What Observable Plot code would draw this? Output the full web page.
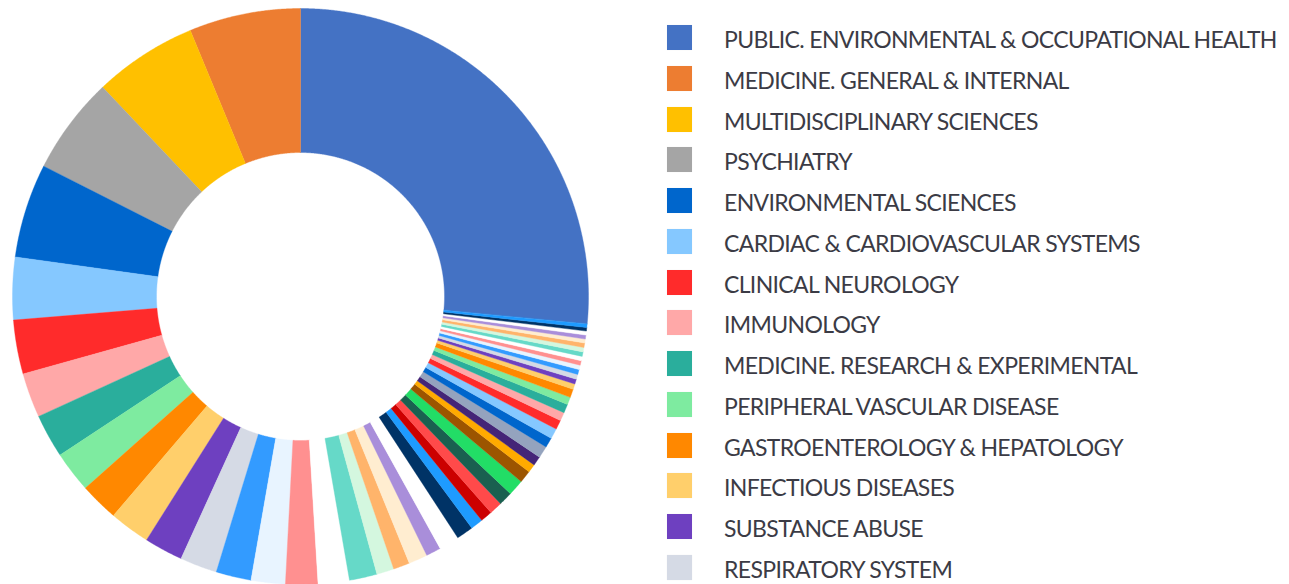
<!DOCTYPE html>
<html>
<head>
<meta charset="utf-8">
<script src="https://cdn.jsdelivr.net/npm/d3@7"></script>
<script src="https://cdn.jsdelivr.net/npm/@observablehq/plot@0.6"></script>
<style>
  html, body { margin: 0; padding: 0; background: #ffffff; }
  #wrap { position: relative; width: 1289px; height: 584px; overflow: hidden; }
  #chart { position: absolute; left: 0; top: 0; }
  #legend { position: absolute; left: 0; top: 0; width: 1289px; height: 584px; pointer-events: none; }
  .sw { position: absolute; width: 25px; height: 25px; box-shadow: 0 0 1px rgba(0,0,0,0.08); }
  .lb { position: absolute; font-family: Lato, "Open Sans", sans-serif; font-size: 23px; color: #3b3b45; white-space: nowrap; line-height: 1; letter-spacing: -0.65px; }
</style>
</head>
<body>
<div id="wrap">
  <div id="chart"></div>
  <div id="legend"></div>
</div>
<script>
// ---- Data ----
// Legend names (only these 14 are visible in the reference)
const categories = [
  "PUBLIC. ENVIRONMENTAL & OCCUPATIONAL HEALTH",
  "MEDICINE. GENERAL & INTERNAL",
  "MULTIDISCIPLINARY SCIENCES",
  "PSYCHIATRY",
  "ENVIRONMENTAL SCIENCES",
  "CARDIAC & CARDIOVASCULAR SYSTEMS",
  "CLINICAL NEUROLOGY",
  "IMMUNOLOGY",
  "MEDICINE. RESEARCH & EXPERIMENTAL",
  "PERIPHERAL VASCULAR DISEASE",
  "GASTROENTEROLOGY & HEPATOLOGY",
  "INFECTIOUS DISEASES",
  "SUBSTANCE ABUSE",
  "RESPIRATORY SYSTEM"
];

// Slice shares, in data order
const shares = [
  95.5, 22.5, 20.9, 19.7, 19.0, 12.6, 10.9, 9.0, 8.8, 8.3,
  7.8, 8.2, 7.8, 7.5, 7.1, 6.9, 6.5, 6.3, 5.6, 3.5,
  3.3, 3.8, 3.0, 4.1, 3.4, 2.5, 2.4, 2.6, 2.8, 3.2,
  2.5, 1.7, 1.9, 2.4, 2.0, 2.1, 1.9, 1.7, 1.8, 1.5,
  1.7, 1.1, 1.0, 1.0, 1.0, 0.9, 0.9, 0.9, 0.9, 0.9,
  0.9, 0.8, 0.8, 0.8, 0.7, 0.7
];

// Slice colours, in data order
const colors = [
  "#4472C4", "#ED7D31", "#FFC000", "#A5A5A5", "#0066CC", "#85C8FF", "#FF2B2B", "#FFA8A8", "#2AAE9C", "#7EEBA0",
  "#FF8800", "#FFCF6B", "#6E40C0", "#D5DAE5", "#339BFF", "#E8F4FF", "#FF9090", "#FFFFFF", "#66D9C8", "#D4F7DF",
  "#FFB46B", "#FFEDD0", "#A98EDA", "#FFFFFF", "#003366", "#1E9BFF", "#CC0000", "#FF4A4A", "#1A6050", "#22DD66",
  "#9C5500", "#FFAA00", "#442577", "#94A3BE", "#0066CC", "#85C8FF", "#FF2B2B", "#FFA8A8", "#2AAE9C", "#7EEBA0",
  "#FF8800", "#FFCF6B", "#6E40C0", "#D5DAE5", "#339BFF", "#E8F4FF", "#FF9090", "#FFFFFF", "#66D9C8", "#D4F7DF",
  "#FFB46B", "#FFEDD0", "#A98EDA", "#FFFFFF", "#003366", "#1E9BFF"
];

// ---- Layout ----
const W = 640, H = 584;
const cx = 300, cy = 296, R = 288, innerFrac = 0.5;

// ---- Build slice geometries (unit circle; clockwise angles from 12 o'clock) ----
const total = d3.sum(shares);
const start = shares[0] / total * 2 * Math.PI; // first slice ends at 12 o'clock
let cum = 0;
const slices = shares.map((v, i) => {
  const hi = start - cum / total * 2 * Math.PI;
  cum += v;
  const lo = start - cum / total * 2 * Math.PI;
  const n = Math.max(2, Math.ceil((hi - lo) / (Math.PI / 720)));
  const ring = [];
  for (let k = 0; k <= n; k++) {
    const a = lo + (hi - lo) * k / n;
    ring.push([Math.sin(a), -Math.cos(a)]);
  }
  for (let k = n; k >= 0; k--) {
    const a = lo + (hi - lo) * k / n;
    ring.push([innerFrac * Math.sin(a), -innerFrac * Math.cos(a)]);
  }
  ring.push(ring[0]);
  return {
    type: "Feature",
    properties: {name: categories[i] ?? `category ${i + 1}`, color: colors[i], value: v},
    geometry: {type: "Polygon", coordinates: [ring]}
  };
});

// Domain of the projection: frame expressed in unit-circle coordinates
const domain = {type: "MultiPoint", coordinates: [[-cx / R, -cy / R], [(W - cx) / R, (H - cy) / R]]};

const chart = Plot.plot({
  width: W,
  height: H,
  margin: 0,
  projection: {type: "identity", domain},
  marks: [
    Plot.geo(slices, {
      fill: d => d.properties.color,
      stroke: d => d.properties.color,
      strokeWidth: 0.4
    })
  ]
});
document.getElementById("chart").appendChild(chart);

// ---- Legend ----
const legend = document.getElementById("legend");
const rowTop = 25, rowStep = 40.77;
categories.forEach((name, i) => {
  const sw = document.createElement("div");
  sw.className = "sw";
  sw.style.left = "667px";
  sw.style.top = (rowTop + i * rowStep) + "px";
  sw.style.background = colors[i];
  legend.appendChild(sw);
  const lb = document.createElement("div");
  lb.className = "lb";
  lb.style.left = "724px";
  lb.style.top = (rowTop + 3 + i * rowStep) + "px";
  lb.textContent = name;
  legend.appendChild(lb);
});
</script>
</body>
</html>
